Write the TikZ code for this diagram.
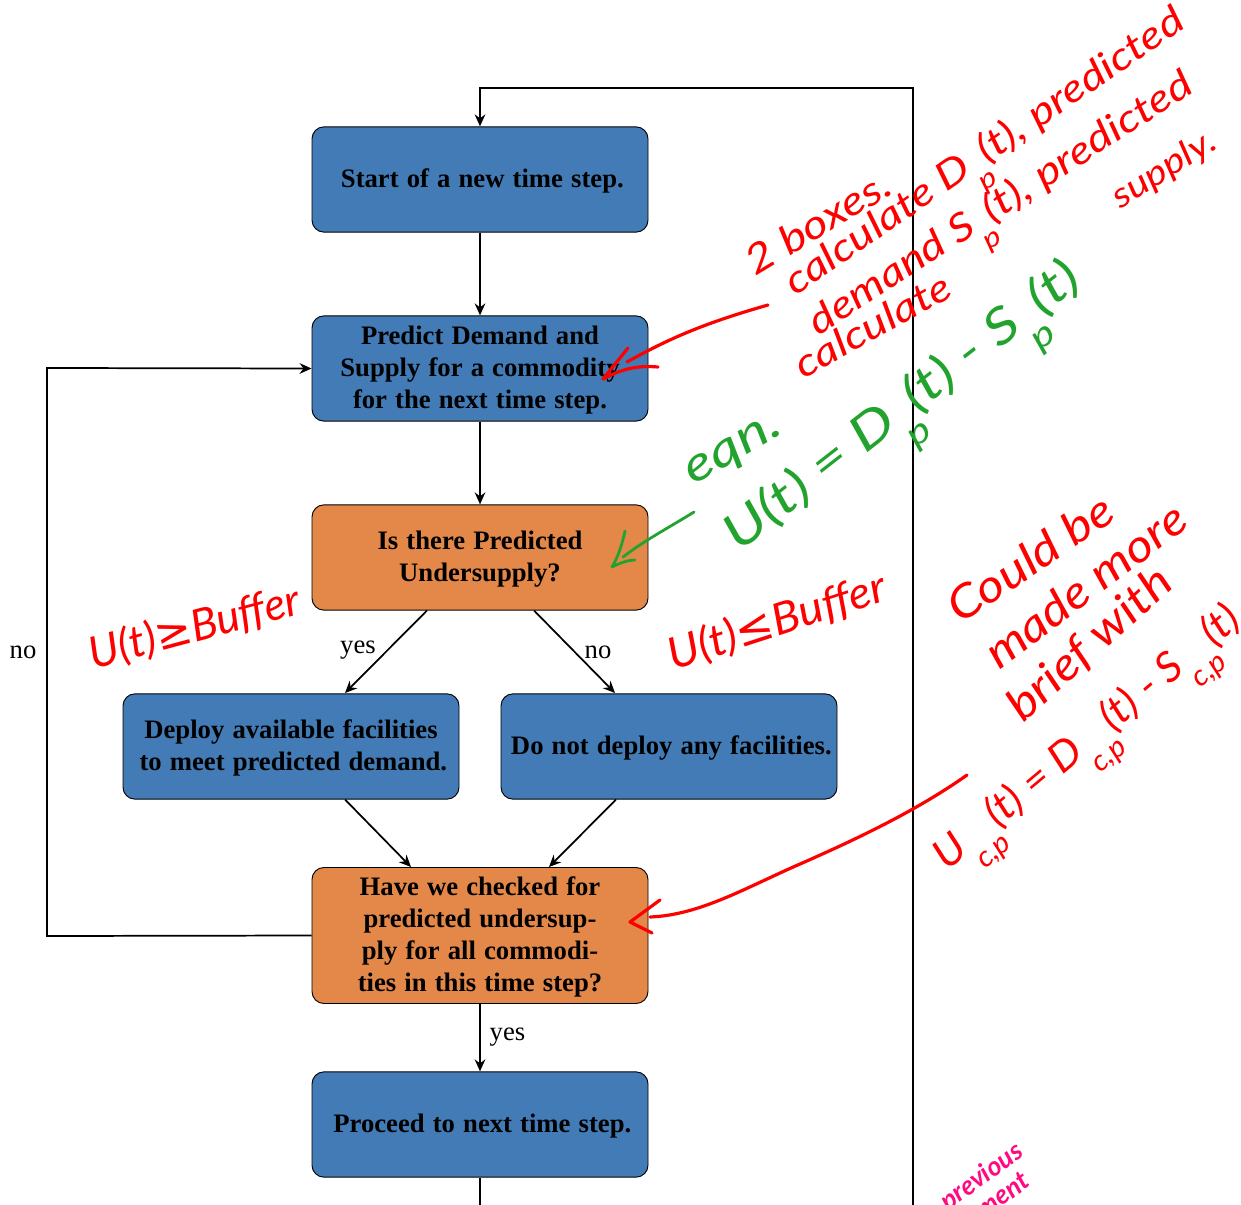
\documentclass[tikz,border=0pt]{standalone}
\usepackage{fontspec}
\setmainfont{Liberation Serif}
\newfontfamily\handfont{Lato}
\newfontfamily\symfont{DejaVu Sans}
\usetikzlibrary{arrows.meta}
\definecolor{boxblue}{HTML}{427BB5}
\definecolor{boxorange}{HTML}{E38849}
\definecolor{penred}{HTML}{FF0000}
\definecolor{pengreen}{HTML}{22A32E}
\definecolor{penpink}{HTML}{FF0A82}
\newcommand\lo[1]{\raisebox{-.55em}{\scalebox{.7}{#1}}}
\newcommand\hf[1]{\fontsize{#1}{#1}\selectfont\handfont\itshape}
\newcommand\wide[2]{\scalebox{#1}[1]{#2}}
\newcommand\boxtext[1]{\vbox{\kern2.5pt\hbox{\spaceskip=6.1pt\relax\begin{tabular}{@{}c@{}}#1\end{tabular}}}}
\tikzset{
  flowbox/.style={draw=black,line width=0.7pt,rounded corners=9pt,minimum width=252pt,text=black,
    font=\fontsize{20}{24}\selectfont\bfseries,inner sep=0pt},
  blue box/.style={flowbox,fill=boxblue},
  orange box/.style={flowbox,fill=boxorange},
  flow/.style={line width=1.3pt,-{Stealth[length=9pt,width=8pt,inset=3pt]}},
  lab/.style={font=\fontsize{20}{24}\selectfont,text=black,inner sep=0pt},
  hand/.style={inner sep=0pt,align=center},
  redpen/.style={draw=penred,line width=2.4pt,line cap=round,line join=round},
  greenpen/.style={draw=pengreen,line width=2.1pt,line cap=round,line join=round}
}
\begin{document}
\begin{tikzpicture}[x=0.75pt,y=-0.75pt]
\useasboundingbox (0,0) rectangle (1241,1205);
\clip (0,0) rectangle (1241,1205);
% boxes
\node[blue box,minimum height=79pt] (start) at (480,179.5) {\boxtext{\hspace*{3.5pt}Start of a new time step.}};
\node[blue box,minimum height=79pt] (predict) at (480,368.5) {\boxtext{Predict Demand and\\Supply for a commodity\\for the next time step.}};
\node[orange box,minimum height=79pt] (under) at (480,557.5) {\boxtext{Is there Predicted\\Undersupply?}};
\node[blue box,minimum height=79pt] (deploy) at (291,746.5) {\boxtext{Deploy available facilities\\\hspace*{3.5pt}to meet predicted demand.}};
\node[blue box,minimum height=79pt] (nodeploy) at (669,746.5) {\boxtext{\hspace*{3.5pt}Do not deploy any facilities.}};
\node[orange box,minimum height=102pt] (checked) at (480,935.5) {\boxtext{Have we checked for\\predicted undersup-\\ply for all commodi-\\ties in this time step?}};
\node[blue box,minimum height=79pt] (proceed) at (480,1124.5) {\boxtext{\hspace*{3.5pt}Proceed to next time step.}};
% helper points
\coordinate (uL) at (427,610.5);
\coordinate (uR) at (534,610.5);
\coordinate (dT) at (345,693);
\coordinate (nT) at (615,693);
\coordinate (dB) at (345,799.5);
\coordinate (nB) at (616,799.5);
\coordinate (cL) at (411,867);
\coordinate (cR) at (549,867);
\coordinate (loopa) at (480,1260);
\coordinate (loopb) at (913,1260);
\coordinate (loopc) at (913,88);
\coordinate (loopd) at (480,88);
\coordinate (lefta) at (47,936);
\coordinate (leftb) at (47,368);
% connectors
\draw[flow] (start) -- (predict);
\draw[flow] (predict) -- (under);
\draw[flow] (uL) -- (dT);
\draw[flow] (uR) -- (nT);
\draw[flow] (dB) -- (cL);
\draw[flow] (nB) -- (cR);
\draw[flow] (checked) -- (proceed);
\draw[flow] (proceed.south) -- (loopa) -- (loopb) -- (loopc) -- (loopd) -- (start.north);
\draw[flow] (checked.west) -- (lefta) -- (leftb) -- (predict.west);
% labels
\node[lab] (lno) at (23,652.5) {no};
\node[lab] (lyes) at (358,650.5) {yes};
\node[lab] (rno) at (598,652.5) {no};
\node[lab] (byes) at (507.5,1037) {yes};
% handwritten red notes
\node[hand,text=penred,rotate=31,font=\hf{30}] (n1) at (818,222) {\wide{1.2}{2 boxes.}};
\node[hand,text=penred,rotate=34.5,font=\hf{29}] (n2) at (990,160) {\wide{1.2}{calculate D\lo{p}(t), predicted}};
\node[hand,text=penred,rotate=33,font=\hf{29}] (n3) at (1006,212) {\wide{1.2}{demand S\lo{p}(t), predicted}};
\node[hand,text=penred,rotate=32,font=\hf{26}] (n4) at (1165,170) {\wide{1.17}{supply.}};
\node[hand,text=penred,rotate=29,font=\hf{29}] (n5) at (872,325) {\wide{1.2}{calculate}};
\node[hand,text=penred,rotate=18,font=\hf{33}] (n6) at (777,622) {\wide{1.05}{U(t){\symfont\upshape≤}Buffer}};
\node[hand,text=penred,rotate=15,font=\hf{33}] (n7) at (195,628) {U(t){\symfont\upshape≥}Buffer};
\node[hand,text=penred,rotate=34,font=\hf{34}] (n8) at (1030,558) {\wide{1.15}{Could be}};
\node[hand,text=penred,rotate=37,font=\hf{34}] (n9) at (1085,585) {\wide{1.14}{made more}};
\node[hand,text=penred,rotate=42,font=\hf{34}] (n10) at (1090,645) {\wide{1.14}{brief with}};
\node[hand,text=penred,rotate=40,font=\hf{31}] (n11) at (1094,746) {\wide{1.05}{U\lo{c,p}(t) = D\lo{c,p}(t) - S\lo{c,p}(t)}};
% handwritten green notes
\node[hand,text=pengreen,rotate=30,font=\hf{36}] (g1) at (735,452) {\wide{1.25}{eqn.}};
\node[hand,text=pengreen,rotate=38,font=\hf{37}] (g2) at (910,416) {\wide{1.25}{U(t) = D\lo{p}(t) - S\lo{p}(t)}};
% handwritten pink notes
\node[hand,text=penpink,rotate=36,font=\hf{20}\bfseries] (p1) at (982,1177) {previous};
\node[hand,text=penpink,rotate=36,font=\hf{20}\bfseries] (p2) at (1003,1195) {ment};
% pen arrows
\draw[redpen] (768,305) .. controls (705,323) and (670,338) .. (627,362);
\draw[redpen] (628,348) -- (603,379);
\draw[redpen] (658,367) .. controls (635,365) and (620,370) .. (603,379);
\draw[greenpen] (694,512) .. controls (670,527) and (645,540) .. (623,557);
\draw[greenpen] (625,531) .. controls (622,545) and (618,557) .. (612,567) .. controls (620,563) and (628,560) .. (635,560);
\draw[redpen] (967,775) .. controls (915,812) and (850,842) .. (800,864) .. controls (745,888) and (700,915) .. (650,917);
\draw[redpen] (660,900) -- (630,922) -- (652,933);
\end{tikzpicture}
\end{document}
